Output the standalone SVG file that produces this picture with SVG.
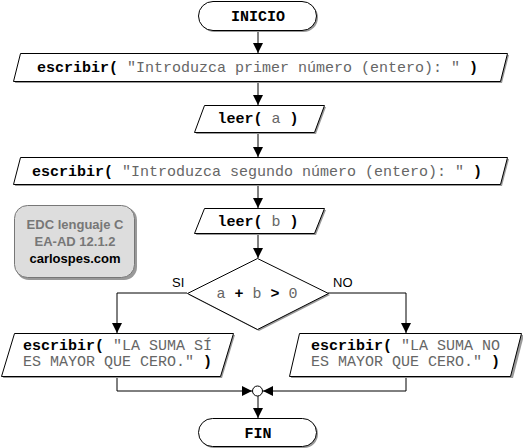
<svg xmlns="http://www.w3.org/2000/svg" width="523" height="448" viewBox="0 0 523 448">
<style>
.sh{fill:#999;stroke:none}
.bx{fill:#fff;stroke:#000;stroke-width:1}
.c{font-family:"Liberation Mono","Courier New",monospace;font-size:15px;fill:#666}
.b{font-weight:bold;fill:#000}
.s{font-family:"Liberation Sans",Arial,sans-serif;font-size:13px;fill:#000}
.ln{fill:none;stroke:#000;stroke-width:1}
</style>
<defs>
<marker id="ah" markerUnits="userSpaceOnUse" markerWidth="11" markerHeight="11" refX="10" refY="5" orient="auto">
<path d="M0,0 L10,5 L0,10 z" fill="#000"/>
</marker>
</defs>
<rect width="523" height="448" fill="#fff"/>
<g id="connectors">
<path class="ln" d="M258,31 V53" marker-end="url(#ah)"/>
<path class="ln" d="M258,81 V105" marker-end="url(#ah)"/>
<path class="ln" d="M258,132 V157" marker-end="url(#ah)"/>
<path class="ln" d="M258,184 V208" marker-end="url(#ah)"/>
<path class="ln" d="M258,233 V258" marker-end="url(#ah)"/>
<path class="ln" d="M187,293 H117 V333" marker-end="url(#ah)"/>
<path class="ln" d="M328,293 H406 V333" marker-end="url(#ah)"/>
<path class="ln" d="M117,376 V391 H252" marker-end="url(#ah)"/>
<path class="ln" d="M406,376 V391 H263" marker-end="url(#ah)"/>
<path class="ln" d="M258,396 V418" marker-end="url(#ah)"/>
</g>
<g id="inicio">
<rect class="sh" x="200" y="3" width="118" height="29" rx="14.5"/>
<rect class="bx" x="198.5" y="1.5" width="118" height="29" rx="14.5"/>
<text class="c b" x="258" y="20.5" text-anchor="middle">INICIO</text>
</g>
<g id="escribir1">
<polygon class="sh" points="22,55 509,55 502,83 15,83"/>
<polygon class="bx" points="20.5,53.5 507.5,53.5 500.5,81.5 13.5,81.5"/>
<text class="c" x="37" y="72"><tspan class="b">escribir(</tspan> "Introduzca primer número (entero): " <tspan class="b">)</tspan></text>
</g>
<g id="leer_a">
<polygon class="sh" points="206,107 326,107 316,134 196,134"/>
<polygon class="bx" points="204.5,105.5 324.5,105.5 314.5,132.5 194.5,132.5"/>
<text class="c" x="258" y="123" text-anchor="middle"><tspan class="b">leer(</tspan> a <tspan class="b">)</tspan></text>
</g>
<g id="escribir2">
<polygon class="sh" points="22,159 509,159 502,186 15,186"/>
<polygon class="bx" points="20.5,157.5 507.5,157.5 500.5,184.5 13.5,184.5"/>
<text class="c" x="32" y="176"><tspan class="b">escribir(</tspan> "Introduzca segundo número (entero): " <tspan class="b">)</tspan></text>
</g>
<g id="leer_b">
<polygon class="sh" points="206,210 326,210 316,235 196,235"/>
<polygon class="bx" points="204.5,208.5 324.5,208.5 314.5,233.5 194.5,233.5"/>
<text class="c" x="258" y="226" text-anchor="middle"><tspan class="b">leer(</tspan> b <tspan class="b">)</tspan></text>
</g>
<g id="info">
<rect x="16" y="207" width="121" height="73" rx="13" fill="#999"/>
<rect x="14.5" y="205.5" width="120" height="72" rx="13" fill="#ddd" stroke="#777" stroke-width="1"/>
<text x="75" y="229" text-anchor="middle" font-family="Liberation Sans,Arial,sans-serif" font-size="13" font-weight="bold" fill="#777">EDC lenguaje C</text>
<text x="75" y="246" text-anchor="middle" font-family="Liberation Sans,Arial,sans-serif" font-size="13" font-weight="bold" fill="#777">EA-AD 12.1.2</text>
<text x="75" y="263" text-anchor="middle" font-family="Liberation Sans,Arial,sans-serif" font-size="13" font-weight="bold" fill="#000">carlospes.com</text>
</g>
<g id="decision">
<polygon class="sh" points="259,260 330,295 259,331 189,295"/>
<polygon class="bx" points="257.5,258.5 328.5,293.5 257.5,329.5 187.5,293.5"/>
<text class="c" x="257" y="298" text-anchor="middle">a <tspan class="b">+</tspan> b <tspan class="b">&gt;</tspan> 0</text>
<text class="s" x="172" y="287">SI</text>
<text class="s" x="333" y="287">NO</text>
</g>
<g id="si">
<polygon class="sh" points="16,335 235,335 222,378 3,378"/>
<polygon class="bx" points="14.5,333.5 233.5,333.5 220.5,376.5 1.5,376.5"/>
<text class="c" x="23" y="350"><tspan class="b">escribir(</tspan> "LA SUMA SÍ</text>
<text class="c" x="23" y="366">ES MAYOR QUE CERO." <tspan class="b">)</tspan></text>
</g>
<g id="no">
<polygon class="sh" points="301,335 524,335 513,378 291,378"/>
<polygon class="bx" points="299.5,333.5 521.5,333.5 510.5,376.5 289.5,376.5"/>
<text class="c" x="311" y="350"><tspan class="b">escribir(</tspan> "LA SUMA NO</text>
<text class="c" x="311" y="366">ES MAYOR QUE CERO." <tspan class="b">)</tspan></text>
</g>
<g id="union">
<circle cx="257.5" cy="391" r="5" fill="#fff" stroke="#000" stroke-width="1"/>
</g>
<g id="fin">
<rect class="sh" x="200" y="420" width="118" height="28" rx="14"/>
<rect class="bx" x="198.5" y="418.5" width="118" height="28" rx="14"/>
<text class="c b" x="258" y="437.5" text-anchor="middle">FIN</text>
</g>
</svg>
